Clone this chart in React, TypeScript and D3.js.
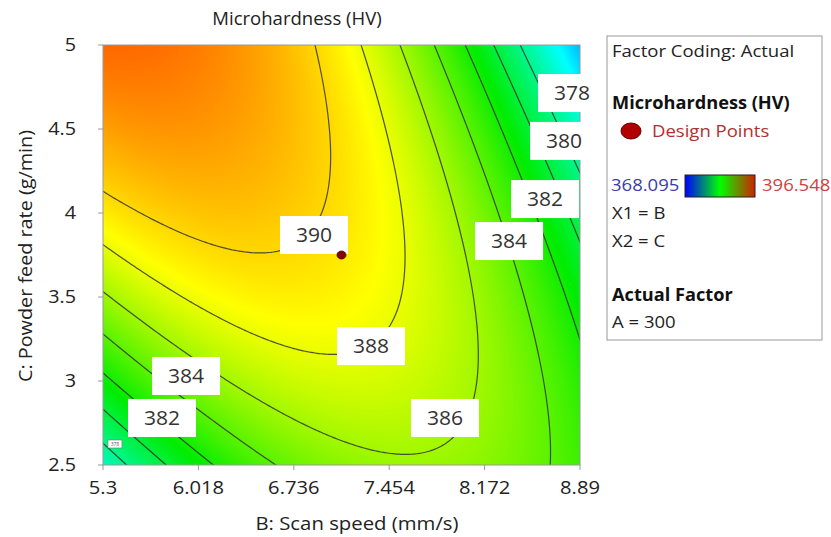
import React, { useMemo } from 'react';
import * as d3 from 'd3';

const TITLE = 'Microhardness (HV)';
const B_TICKS = [5.3, 6.018, 6.736, 7.454, 8.172, 8.89];
const C_TICKS = [2.5, 3, 3.5, 4, 4.5, 5];
const B_LABEL = 'B: Scan speed (mm/s)';
const C_LABEL = 'C: Powder feed rate (g/min)';
// quadratic model in coded units: [intercept, B, C, BC, B², C²]
const MODEL_COEFS = [389.35, -3.63, 1.8, -6.87, -5.4, -2.25];
const CONTOUR_LEVELS = [378, 380, 382, 384, 386, 388, 390];
const LABEL_LEVELS = [390, 388, 386, 384, 382, 380, 378, 384, 382];
const LABEL_B = [6.888, 7.317, 7.874, 8.356, 8.627, 8.77, 8.83, 5.925, 5.744];
const LABEL_C = [3.869, 3.208, 2.78, 3.833, 4.083, 4.429, 4.714, 3.03, 2.78];
const TINY_LABEL_LEVEL = [378];
const TINY_LABEL_B = [5.39];
const TINY_LABEL_C = [2.625];
const DESIGN_B = [7.095];
const DESIGN_C = [3.75];
const RESPONSE_MIN = 368.095;
const RESPONSE_MAX = 396.548;
const COLOR_STOPS = [368.095, 375, 381.5, 388.6, 396.548];
const COLOR_VALUES = ['#0000ff', '#00ffff', '#00ec00', '#ffff00', '#ff2000'];
const LEGEND_LINES = ['Factor Coding: Actual', 'Microhardness (HV)', 'Design Points', 'X1 = B', 'X2 = C', 'Actual Factor', 'A = 300'];

const X0 = 103, X1 = 580, Y0 = 45, Y1 = 465;
const FONT = '"Open Sans", "Noto Sans", sans-serif';

const xScale = d3.scaleLinear().domain([5.3, 8.89]).range([X0, X1]);
const yScale = d3.scaleLinear().domain([2.5, 5]).range([Y1, Y0]);

function model(B: number, C: number) {
  const u = (B - 7.095) / 1.795;
  const v = (C - 3.75) / 1.25;
  const k = MODEL_COEFS;
  return k[0] + k[1] * u + k[2] * v + k[3] * u * v + k[4] * u * u + k[5] * v * v;
}

const colorScale = d3
  .scaleLinear<string>()
  .domain(COLOR_STOPS)
  .range(COLOR_VALUES)
  .interpolate(d3.interpolateRgb)
  .clamp(true);

function T(props: {
  x: number;
  y: number;
  sx?: number;
  size: number;
  anchor?: string;
  weight?: string;
  fill?: string;
  rotate?: number;
  children: React.ReactNode;
}) {
  const { x, y, sx = 1.1, size, anchor = 'start', weight = 'normal', fill = '#222', rotate = 0 } = props;
  return (
    <text
      transform={`translate(${x},${y}) rotate(${rotate}) scale(${sx},1)`}
      textAnchor={anchor}
      fontSize={size}
      fontWeight={weight}
      fill={fill}
    >
      {props.children}
    </text>
  );
}

export default function App() {
  const W = X1 - X0, H = Y1 - Y0;

  const imgUrl = useMemo(() => {
    const canvas = document.createElement('canvas');
    canvas.width = W;
    canvas.height = H;
    const ctx = canvas.getContext('2d');
    if (!ctx) return '';
    const img = ctx.createImageData(W, H);
    for (let j = 0; j < H; j++) {
      const C = yScale.invert(Y0 + j + 0.5);
      for (let i = 0; i < W; i++) {
        const B = xScale.invert(X0 + i + 0.5);
        const c = d3.rgb(colorScale(model(B, C)));
        const o = (j * W + i) * 4;
        img.data[o] = c.r;
        img.data[o + 1] = c.g;
        img.data[o + 2] = c.b;
        img.data[o + 3] = 255;
      }
    }
    ctx.putImageData(img, 0, 0);
    return canvas.toDataURL();
  }, []);

  const contourPaths = useMemo(() => {
    const step = 2;
    const pad = 8;
    const gx0 = X0 - pad, gy0 = Y0 - pad;
    const nx = Math.ceil((W + 2 * pad) / step) + 1;
    const ny = Math.ceil((H + 2 * pad) / step) + 1;
    const values = new Array(nx * ny);
    for (let j = 0; j < ny; j++) {
      const C = yScale.invert(gy0 + j * step);
      for (let i = 0; i < nx; i++) {
        values[j * nx + i] = model(xScale.invert(gx0 + i * step), C);
      }
    }
    const contours = d3.contours().size([nx, ny]).thresholds(CONTOUR_LEVELS)(values);
    const path = d3.geoPath(
      d3.geoTransform({
        point(x: number, y: number) {
          (this as any).stream.point(gx0 + (x - 0.5) * step, gy0 + (y - 0.5) * step);
        },
      })
    );
    return contours.map((c) => ({ level: c.value, d: path(c as any) || '' }));
  }, []);

  return (
    <svg
      width={831}
      height={537}
      style={{ position: 'absolute', left: 0, top: 0, background: '#fff', fontFamily: FONT }}
    >
      <defs>
        <clipPath id="plotClip">
          <rect x={X0} y={Y0} width={W} height={H} />
        </clipPath>
        <linearGradient id="legGrad" x1="0" x2="1" y1="0" y2="0">
          <stop offset="0%" stopColor="#0000ff" />
          <stop offset="50%" stopColor="#00ff00" />
          <stop offset="100%" stopColor="#d02000" />
        </linearGradient>
      </defs>
      <rect x={0} y={0} width={831} height={537} fill="#fff" />
      <T x={297} y={25} size={18} sx={1.03} anchor="middle">
        {TITLE}
      </T>

      {imgUrl && <image href={imgUrl} x={X0} y={Y0} width={W} height={H} preserveAspectRatio="none" />}

      <g clipPath="url(#plotClip)">
        {contourPaths.map((c) => (
          <path key={c.level} d={c.d} fill="none" stroke="#333" strokeOpacity={0.85} strokeWidth={1.2} />
        ))}
      </g>

      <rect x={X0} y={Y0} width={W} height={H} fill="none" stroke="#999" strokeWidth={1} />

      {B_TICKS.map((t) => (
        <g key={'bx' + t}>
          <line x1={xScale(t)} x2={xScale(t)} y1={Y1} y2={Y1 + 5} stroke="#999" />
          <T x={xScale(t)} y={494} size={18} sx={1.12} anchor="middle">
            {t}
          </T>
        </g>
      ))}
      {C_TICKS.map((t) => (
        <g key={'cy' + t}>
          <line x1={X0 - 5} x2={X0} y1={yScale(t)} y2={yScale(t)} stroke="#999" />
          <T x={76} y={yScale(t) + 6} size={18} sx={1.1} anchor="end">
            {t}
          </T>
        </g>
      ))}
      <T x={357} y={530} size={18} sx={1.13} anchor="middle">
        {B_LABEL}
      </T>
      <T x={32} y={(Y0 + Y1) / 2 + 1} size={18} sx={1.1} anchor="middle" rotate={-90}>
        {C_LABEL}
      </T>

      {LABEL_LEVELS.map((lv, i) => {
        const cx = xScale(LABEL_B[i]);
        const cy = yScale(LABEL_C[i]);
        return (
          <g key={'lab' + i}>
            <rect x={cx - 34} y={cy - 19} width={68} height={38} fill="#fff" />
            <T x={cx} y={cy + 7} size={19.5} sx={1.08} anchor="middle" fill="#333">
              {lv}
            </T>
          </g>
        );
      })}
      {TINY_LABEL_LEVEL.map((lv, i) => {
        const cx = xScale(TINY_LABEL_B[i]);
        const cy = yScale(TINY_LABEL_C[i]);
        return (
          <g key={'tiny' + i}>
            <rect x={cx - 7} y={cy - 4} width={14} height={8} fill="#fff" stroke="#777" strokeWidth={0.6} />
            <text x={cx} y={cy + 2} textAnchor="middle" fontSize={5} fill="#555">
              {lv}
            </text>
          </g>
        );
      })}

      {DESIGN_B.map((b, i) => (
        <ellipse key={'dp' + i} cx={xScale(b)} cy={yScale(DESIGN_C[i])} rx={4.5} ry={4} fill="#8a0000" stroke="#400" strokeWidth={0.8} />
      ))}

      <rect x={607} y={36} width={215} height={304} fill="#fff" stroke="#999" strokeWidth={1} />
      <T x={612} y={57} size={17} sx={1.09}>{LEGEND_LINES[0]}</T>
      <T x={612} y={109} size={17} sx={1.07} weight="bold" fill="#111">{LEGEND_LINES[1]}</T>
      <ellipse cx={631} cy={131} rx={10} ry={8} fill="#b00000" stroke="#600" strokeWidth={1} />
      <T x={652} y={137} size={17} sx={1.09} fill="#b03030">{LEGEND_LINES[2]}</T>
      <T x={611} y={191} size={17} sx={1.09} fill="#3a3aa8">{d3.format('.3f')(RESPONSE_MIN)}</T>
      <rect x={685} y={175} width={70} height={22} fill="url(#legGrad)" stroke="#222" strokeWidth={1} />
      <T x={762} y={191} size={17} sx={1.09} fill="#d04040">{d3.format('.3f')(RESPONSE_MAX)}</T>
      <T x={612} y={219} size={17} sx={1.09}>{LEGEND_LINES[3]}</T>
      <T x={612} y={247} size={17} sx={1.09}>{LEGEND_LINES[4]}</T>
      <T x={612} y={301} size={17} sx={1.07} weight="bold" fill="#111">{LEGEND_LINES[5]}</T>
      <T x={612} y={328} size={17} sx={1.09}>{LEGEND_LINES[6]}</T>
    </svg>
  );
}
